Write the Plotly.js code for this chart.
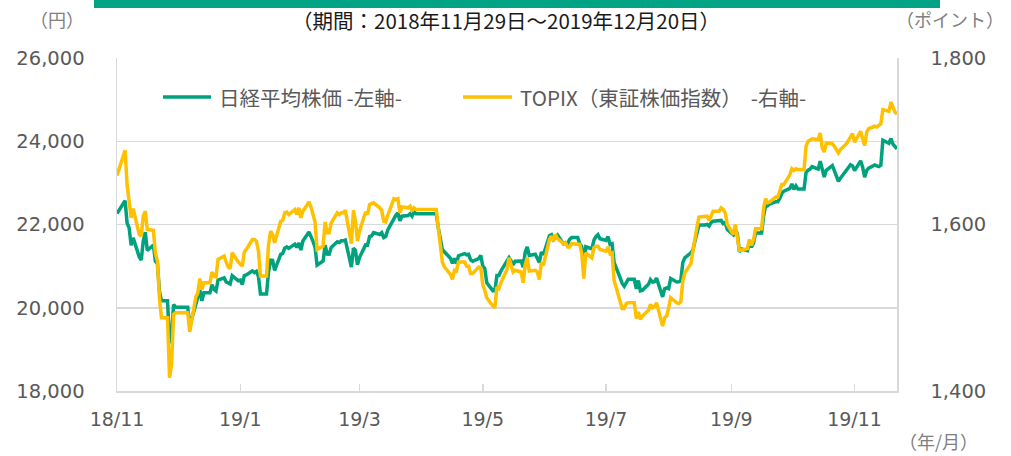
<!DOCTYPE html>
<html>
<head>
<meta charset="utf-8">
<script src="https://cdn.plot.ly/plotly-3.0.1.min.js"></script>
<style>
html,body{margin:0;padding:0;background:#fff;}
#chart{width:1011px;height:456px;}
</style>
</head>
<body>
<div id="chart"></div>
<script>
// ---- data (business days; market holidays carry the previous close, as in the source) ----
var dates = [
"2018-11-29","2018-11-30",
"2018-12-03","2018-12-04","2018-12-05","2018-12-06","2018-12-07","2018-12-10","2018-12-11","2018-12-12","2018-12-13","2018-12-14","2018-12-17","2018-12-18","2018-12-19","2018-12-20","2018-12-21","2018-12-24","2018-12-25","2018-12-26","2018-12-27","2018-12-28","2018-12-31",
"2019-01-01","2019-01-02","2019-01-03","2019-01-04","2019-01-07","2019-01-08","2019-01-09","2019-01-10","2019-01-11","2019-01-14","2019-01-15","2019-01-16","2019-01-17","2019-01-18","2019-01-21","2019-01-22","2019-01-23","2019-01-24","2019-01-25","2019-01-28","2019-01-29","2019-01-30","2019-01-31",
"2019-02-01","2019-02-04","2019-02-05","2019-02-06","2019-02-07","2019-02-08","2019-02-11","2019-02-12","2019-02-13","2019-02-14","2019-02-15","2019-02-18","2019-02-19","2019-02-20","2019-02-21","2019-02-22","2019-02-25","2019-02-26","2019-02-27","2019-02-28",
"2019-03-01","2019-03-04","2019-03-05","2019-03-06","2019-03-07","2019-03-08","2019-03-11","2019-03-12","2019-03-13","2019-03-14","2019-03-15","2019-03-18","2019-03-19","2019-03-20","2019-03-21","2019-03-22","2019-03-25","2019-03-26","2019-03-27","2019-03-28","2019-03-29",
"2019-04-01","2019-04-02","2019-04-03","2019-04-04","2019-04-05","2019-04-08","2019-04-09","2019-04-10","2019-04-11","2019-04-12","2019-04-15","2019-04-16","2019-04-17","2019-04-18","2019-04-19","2019-04-22","2019-04-23","2019-04-24","2019-04-25","2019-04-26","2019-04-29","2019-04-30",
"2019-05-01","2019-05-02","2019-05-03","2019-05-06","2019-05-07","2019-05-08","2019-05-09","2019-05-10","2019-05-13","2019-05-14","2019-05-15","2019-05-16","2019-05-17","2019-05-20","2019-05-21","2019-05-22","2019-05-23","2019-05-24","2019-05-27","2019-05-28","2019-05-29","2019-05-30","2019-05-31",
"2019-06-03","2019-06-04","2019-06-05","2019-06-06","2019-06-07","2019-06-10","2019-06-11","2019-06-12","2019-06-13","2019-06-14","2019-06-17","2019-06-18","2019-06-19","2019-06-20","2019-06-21","2019-06-24","2019-06-25","2019-06-26","2019-06-27","2019-06-28",
"2019-07-01","2019-07-02","2019-07-03","2019-07-04","2019-07-05","2019-07-08","2019-07-09","2019-07-10","2019-07-11","2019-07-12","2019-07-15","2019-07-16","2019-07-17","2019-07-18","2019-07-19","2019-07-22","2019-07-23","2019-07-24","2019-07-25","2019-07-26","2019-07-29","2019-07-30","2019-07-31",
"2019-08-01","2019-08-02","2019-08-05","2019-08-06","2019-08-07","2019-08-08","2019-08-09","2019-08-12","2019-08-13","2019-08-14","2019-08-15","2019-08-16","2019-08-19","2019-08-20","2019-08-21","2019-08-22","2019-08-23","2019-08-26","2019-08-27","2019-08-28","2019-08-29","2019-08-30",
"2019-09-02","2019-09-03","2019-09-04","2019-09-05","2019-09-06","2019-09-09","2019-09-10","2019-09-11","2019-09-12","2019-09-13","2019-09-16","2019-09-17","2019-09-18","2019-09-19","2019-09-20","2019-09-23","2019-09-24","2019-09-25","2019-09-26","2019-09-27","2019-09-30",
"2019-10-01","2019-10-02","2019-10-03","2019-10-04","2019-10-07","2019-10-08","2019-10-09","2019-10-10","2019-10-11","2019-10-14","2019-10-15","2019-10-16","2019-10-17","2019-10-18","2019-10-21","2019-10-22","2019-10-23","2019-10-24","2019-10-25","2019-10-28","2019-10-29","2019-10-30","2019-10-31",
"2019-11-01","2019-11-04","2019-11-05","2019-11-06","2019-11-07","2019-11-08","2019-11-11","2019-11-12","2019-11-13","2019-11-14","2019-11-15","2019-11-18","2019-11-19","2019-11-20","2019-11-21","2019-11-22","2019-11-25","2019-11-26","2019-11-27","2019-11-28","2019-11-29",
"2019-12-02","2019-12-03","2019-12-04","2019-12-05","2019-12-06","2019-12-09","2019-12-10","2019-12-11","2019-12-12","2019-12-13","2019-12-16","2019-12-17","2019-12-18","2019-12-19","2019-12-20"
];
var nikkei = [
22262,22351,
22575,22036,21919,21501,21679,21220,21148,21602,21816,21375,21506,21115,21058,20392,20166,20166,19155,19327,20077,20015,20015,
20015,20015,20015,19562,20038,20204,20427,20164,20359,20359,20555,20442,20402,20666,20719,20622,20593,20574,20773,20649,20664,20556,20773,
20788,20883,20844,20874,20751,20333,20333,20864,21144,21139,20900,21281,21302,21431,21464,21425,21528,21449,21556,21385,
21602,21822,21726,21596,21456,21025,21125,21503,21290,21287,21450,21584,21566,21608,21608,21627,20977,21428,21378,21033,21205,
21509,21505,21713,21724,21807,21761,21802,21687,21711,21870,22169,22221,22277,22090,22200,22217,22259,22200,22307,22258,22258,22258,
22258,22258,22258,22258,21923,21602,21402,21344,21191,21067,21188,21062,21250,21301,21272,21283,21151,21117,21182,21260,21003,20942,20601,
20410,20408,20776,20774,20884,21134,21204,21129,21032,21116,21124,20972,21333,21462,21258,21285,21193,21086,21338,21275,
21729,21754,21638,21702,21746,21534,21565,21533,21643,21685,21685,21535,21469,21046,21466,21416,21620,21709,21756,21658,21616,21709,21521,
21540,21087,20720,20585,20516,20593,20684,20684,20455,20655,20405,20418,20563,20677,20618,20628,20711,20261,20456,20479,20460,20704,
20620,20625,20649,21085,21199,21318,21392,21597,21759,21988,21988,22001,21960,22044,22079,22079,22098,22020,22048,21878,21755,
21885,21778,21341,21410,21375,21587,21456,21551,21798,21798,22207,22472,22451,22492,22548,22548,22625,22750,22799,22867,22974,22843,22927,
22850,22850,23251,23303,23330,23391,23331,23520,23319,23141,23303,23416,23292,23148,23038,23112,23292,23373,23437,23409,23293,
23529,23379,23135,23300,23354,23430,23410,23391,23424,24023,23952,24066,23934,23864,23816
];
var topix = [
1659,1667,
1689,1648,1630,1608,1619,1588,1586,1610,1616,1594,1593,1566,1556,1512,1488,1488,1416,1432,1492,1494,1494,
1494,1494,1494,1471,1513,1518,1535,1522,1530,1530,1543,1538,1537,1558,1562,1555,1549,1547,1566,1555,1553,1550,1567,
1570,1582,1582,1580,1568,1538,1538,1576,1592,1588,1578,1604,1605,1614,1615,1612,1618,1612,1620,1608,
1616,1627,1621,1612,1603,1570,1574,1603,1590,1590,1602,1614,1612,1614,1614,1617,1577,1617,1604,1580,1592,
1615,1612,1624,1625,1626,1620,1617,1604,1603,1611,1631,1630,1631,1614,1621,1620,1622,1616,1620,1618,1618,1618,
1618,1618,1618,1618,1596,1576,1555,1549,1540,1534,1545,1544,1555,1555,1550,1550,1541,1541,1549,1548,1528,1521,1512,
1502,1500,1525,1523,1530,1546,1560,1551,1543,1545,1543,1530,1551,1560,1544,1545,1543,1534,1554,1551,
1582,1586,1580,1588,1583,1577,1578,1573,1573,1577,1577,1576,1565,1535,1566,1560,1572,1574,1574,1570,1568,1573,1565,
1566,1533,1505,1499,1499,1505,1506,1506,1487,1495,1486,1490,1497,1504,1500,1501,1506,1478,1488,1490,1500,1512,
1506,1505,1507,1532,1542,1553,1568,1585,1597,1609,1609,1610,1605,1612,1616,1616,1620,1618,1614,1600,1588,
1600,1585,1569,1569,1571,1582,1575,1582,1595,1595,1620,1631,1626,1627,1633,1633,1640,1648,1648,1660,1667,1665,1667,
1666,1666,1694,1700,1702,1703,1702,1710,1692,1687,1698,1697,1694,1689,1686,1690,1697,1701,1706,1709,1699,
1712,1703,1695,1711,1715,1718,1717,1719,1721,1738,1736,1747,1740,1735,1733
];
var tickDates  = ["2018-11-29","2019-01-29","2019-03-29","2019-05-29","2019-07-29","2019-09-29","2019-11-29"];
var tickLabels = ["18/11","19/1","19/3","19/5","19/7","19/9","19/11"];
var seriesNames = ["日経平均株価 -左軸-", "TOPIX（東証株価指数）\u00a0\u00a0-右軸-"];

// ---- style ----
var GREEN = "#00a27e", YELLOW = "#ffc000", GRID = "#d9d9d9", TXT = "#595959";
var L = 117, R = 897, T = 58, B = 391, W = 1011, H = 456;
function px(x){ return (x - L) / (R - L); }
function py(y){ return (B - y) / (B - T); }
var NUMFONT = "DejaVu Sans, Verdana, sans-serif";
var JPFONT = "Noto Sans CJK JP, sans-serif";

var traces = [
  {x: dates, y: nikkei, type: "scatter", mode: "lines", name: seriesNames[0],
   line: {color: GREEN, width: 3.5}, yaxis: "y"},
  {x: dates, y: topix, type: "scatter", mode: "lines", name: seriesNames[1],
   line: {color: YELLOW, width: 3.5}, yaxis: "y2"}
];

var layout = {
  width: W, height: H,
  margin: {l: L, r: W - R, t: T, b: H - B, pad: 0},
  paper_bgcolor: "#fff", plot_bgcolor: "#fff",
  showlegend: false,
  xaxis: {
    type: "date", range: ["2018-11-29", "2019-12-20"],
    tickmode: "array", tickvals: tickDates, ticktext: tickLabels,
    ticks: "inside", ticklen: 7, tickwidth: 1.5, tickcolor: GRID,
    showline: true, linecolor: GRID, linewidth: 1.5,
    showgrid: false, zeroline: false,
    tickfont: {family: NUMFONT, size: 19, color: TXT},
    ticklabelstandoff: 11, fixedrange: true
  },
  yaxis: {
    range: [18000, 26000], dtick: 2000, tick0: 18000, tickformat: ",d",
    showgrid: true, gridcolor: GRID, gridwidth: 1.5,
    showline: true, linecolor: GRID, linewidth: 1.5,
    zeroline: false, ticks: "",
    tickfont: {family: NUMFONT, size: 19.5, color: TXT},
    ticklabelstandoff: 27, fixedrange: true
  },
  yaxis2: {
    overlaying: "y", side: "right",
    range: [1400, 1800], dtick: 200, tick0: 1400, tickformat: ",d",
    showgrid: false, showline: true, linecolor: GRID, linewidth: 1.5,
    zeroline: false, ticks: "",
    tickfont: {family: NUMFONT, size: 19.5, color: TXT},
    ticklabelstandoff: 28, fixedrange: true
  },
  shapes: [
    {type: "rect", xref: "paper", yref: "paper", x0: px(94), x1: px(940), y0: py(0), y1: py(8),
     fillcolor: "#00a383", line: {width: 0}, layer: "above"},
    {type: "line", xref: "paper", yref: "paper", x0: px(163), x1: px(211), y0: py(97), y1: py(97),
     line: {color: GREEN, width: 3.5}},
    {type: "line", xref: "paper", yref: "paper", x0: px(463), x1: px(512), y0: py(97), y1: py(97),
     line: {color: YELLOW, width: 3.5}}
  ],
  annotations: [
    {text: "（期間：2018年11月29日～2019年12月20日）", xref: "paper", yref: "paper",
     x: px(506), y: py(20), xanchor: "center", yanchor: "middle", showarrow: false,
     font: {family: JPFONT, size: 20.5, color: "#1a1a1a"}},
    {text: "（円）", xref: "paper", yref: "paper", x: px(57), y: py(19),
     xanchor: "center", yanchor: "middle", showarrow: false,
     font: {family: JPFONT, size: 18, color: "#808080"}},
    {text: "（ポイント）", xref: "paper", yref: "paper", x: px(1006), y: py(19),
     xanchor: "right", yanchor: "middle", showarrow: false,
     font: {family: JPFONT, size: 18, color: "#808080"}},
    {text: "（年/月）", xref: "paper", yref: "paper", x: px(938), y: py(441),
     xanchor: "center", yanchor: "middle", showarrow: false,
     font: {family: JPFONT, size: 18, color: "#808080"}},
    {text: seriesNames[0], xref: "paper", yref: "paper", x: px(217), y: py(97),
     xanchor: "left", yanchor: "middle", showarrow: false,
     font: {family: JPFONT, size: 20.5, color: TXT}},
    {text: seriesNames[1], xref: "paper", yref: "paper", x: px(518), y: py(97),
     xanchor: "left", yanchor: "middle", showarrow: false,
     font: {family: JPFONT, size: 20.5, color: TXT}}
  ]
};

Plotly.newPlot("chart", traces, layout, {displayModeBar: false, staticPlot: true});
</script>
</body>
</html>
